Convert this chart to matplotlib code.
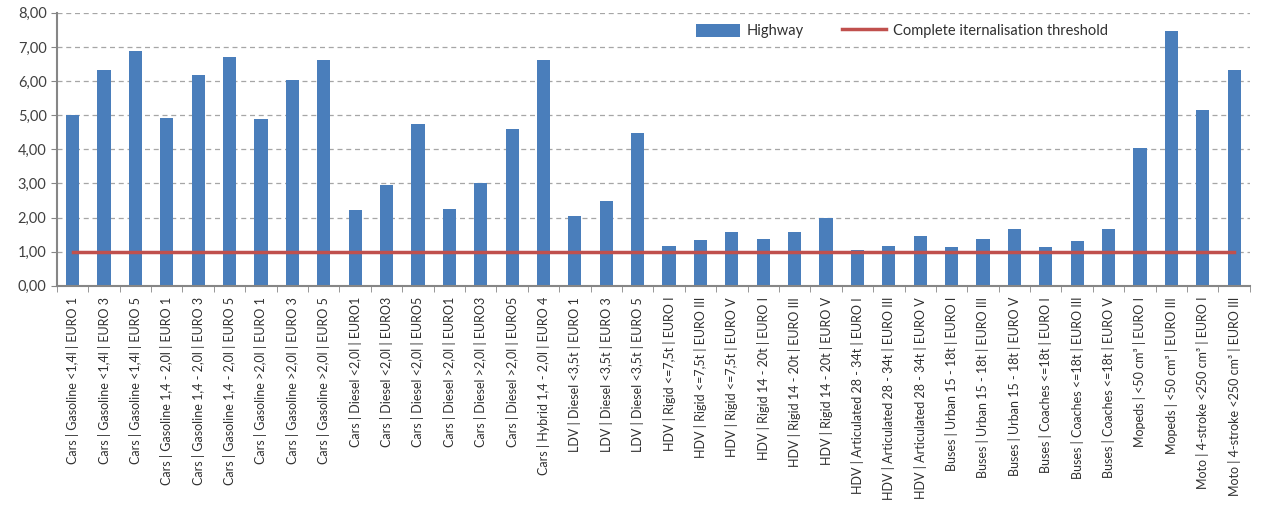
import matplotlib.pyplot as plt
import numpy as np

categories = [
    "Cars | Gasoline <1,4l | EURO 1", "Cars | Gasoline <1,4l | EURO 3", "Cars | Gasoline <1,4l | EURO 5",
    "Cars | Gasoline 1,4 - 2,0l | EURO 1", "Cars | Gasoline 1,4 - 2,0l | EURO 3", "Cars | Gasoline 1,4 - 2,0l | EURO 5",
    "Cars | Gasoline >2,0l | EURO 1", "Cars | Gasoline >2,0l | EURO 3", "Cars | Gasoline >2,0l | EURO 5",
    "Cars | Diesel <2,0l | EURO1", "Cars | Diesel <2,0l | EURO3", "Cars | Diesel <2,0l | EURO5",
    "Cars | Diesel >2,0l | EURO1", "Cars | Diesel >2,0l | EURO3", "Cars | Diesel >2,0l | EURO5",
    "Cars | Hybrid 1,4 - 2,0l | EURO 4",
    "LDV | Diesel <3,5t | EURO 1", "LDV | Diesel <3,5t | EURO 3", "LDV | Diesel <3,5t | EURO 5",
    "HDV | Rigid <=7,5t | EURO I", "HDV | Rigid <=7,5t | EURO III", "HDV | Rigid <=7,5t | EURO V",
    "HDV | Rigid 14 - 20t | EURO I", "HDV | Rigid 14 - 20t | EURO III", "HDV | Rigid 14 - 20t | EURO V",
    "HDV | Articulated 28 - 34t | EURO I", "HDV | Articulated 28 - 34t | EURO III", "HDV | Articulated 28 - 34t | EURO V",
    "Buses | Urban 15 - 18t | EURO I", "Buses | Urban 15 - 18t | EURO III", "Buses | Urban 15 - 18t | EURO V",
    "Buses | Coaches <=18t | EURO I", "Buses | Coaches <=18t | EURO III", "Buses | Coaches <=18t | EURO V",
    "Mopeds | <50 cm³ | EURO I", "Mopeds | <50 cm³ | EURO III",
    "Moto | 4-stroke <250 cm³ | EURO I", "Moto | 4-stroke <250 cm³ | EURO III",
]
highway = [
    5.00, 6.33, 6.87, 4.93, 6.18, 6.72, 4.88, 6.02, 6.63,
    2.22, 2.95, 4.75, 2.25, 3.02, 4.60, 6.63,
    2.05, 2.48, 4.47,
    1.18, 1.33, 1.57, 1.37, 1.57, 2.00, 1.05, 1.18, 1.45,
    1.13, 1.38, 1.68, 1.15, 1.30, 1.68,
    4.05, 7.48, 5.15, 6.33,
]
threshold = 1.0

plt.rcParams['font.family'] = ['Lato', 'DejaVu Sans']

fig = plt.figure(figsize=(12.65, 5.15), dpi=100)
ax = fig.add_axes([0.045, 0.445, 0.943, 0.53])

x = np.arange(len(categories))
bars = ax.bar(x, highway, width=0.42, color='#4a7ebb', label='Highway', zorder=2)
line, = ax.plot(x, [threshold] * len(x), color='#c0504d', lw=2.5,
                label='Complete iternalisation threshold', zorder=3)

ax.set_xlim(-0.5, len(x) - 0.5)
ax.set_ylim(0, 8)
ax.set_yticks(np.arange(0, 9, 1))
ax.set_yticklabels([f"{v:.2f}".replace('.', ',') for v in range(9)],
                   fontsize=10.5, color='#404040')
ax.yaxis.grid(True, ls=(0, (4, 3)), color='#a6a6a6', lw=0.9, zorder=0)

ax.set_xticks(x)
ax.set_xticklabels(categories, rotation=90, fontsize=9, color='#303030')
ax.tick_params(axis='x', length=0, pad=8)
ax.set_xticks(np.arange(-0.5, len(x), 1), minor=True)
ax.tick_params(axis='x', which='minor', length=4, color='#868686')
ax.tick_params(axis='y', length=4, color='#868686')

for s in ['top', 'right']:
    ax.spines[s].set_visible(False)
ax.spines['left'].set_color('#868686')
ax.spines['left'].set_linewidth(1.5)
ax.spines['bottom'].set_color('#868686')
ax.spines['bottom'].set_linewidth(1.5)

ax.legend([bars, line], ['Highway', 'Complete iternalisation threshold'],
          loc='center', bbox_to_anchor=(0.713, 0.94), bbox_transform=fig.transFigure,
          ncol=2, frameon=False, fontsize=10.5, handlelength=3.0, handleheight=1.0,
          columnspacing=2.6, handletextpad=0.5, labelcolor='#303030')

fig.savefig('out.png', dpi=100)
